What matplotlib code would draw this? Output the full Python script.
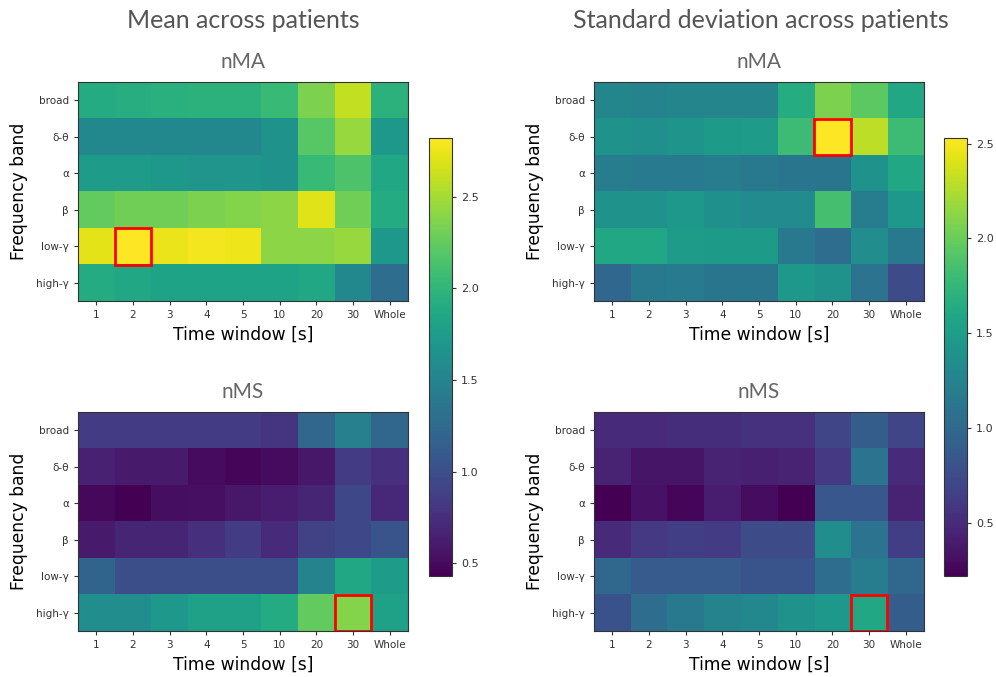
import numpy as np
import matplotlib
matplotlib.use('Agg')
import matplotlib.pyplot as plt
from matplotlib.patches import Rectangle

# axis categories
bands = ['broad', 'δ-θ', 'α', 'β', 'low-γ', 'high-γ']
windows = ['1', '2', '3', '4', '5', '10', '20', '30', 'Whole']

# mean across patients
mean_nma = [
    [1.90, 1.92, 1.95, 1.97, 1.97, 2.05, 2.35, 2.60, 1.97],
    [1.55, 1.55, 1.55, 1.55, 1.55, 1.65, 2.20, 2.45, 1.70],
    [1.75, 1.75, 1.70, 1.68, 1.68, 1.65, 2.05, 2.15, 1.85],
    [2.25, 2.30, 2.30, 2.35, 2.38, 2.40, 2.70, 2.30, 1.90],
    [2.72, 2.82, 2.75, 2.78, 2.76, 2.40, 2.40, 2.45, 1.70],
    [1.90, 1.85, 1.82, 1.82, 1.82, 1.82, 1.85, 1.55, 1.28],
]
mean_nms = [
    [0.85, 0.85, 0.85, 0.85, 0.85, 0.80, 1.22, 1.47, 1.22],
    [0.65, 0.60, 0.60, 0.50, 0.47, 0.50, 0.58, 0.85, 0.75],
    [0.48, 0.43, 0.52, 0.53, 0.58, 0.62, 0.68, 0.95, 0.70],
    [0.60, 0.68, 0.68, 0.75, 0.85, 0.72, 0.90, 0.95, 1.05],
    [1.20, 1.00, 1.00, 1.00, 1.00, 1.00, 1.50, 1.85, 1.75],
    [1.60, 1.60, 1.70, 1.80, 1.80, 1.90, 2.25, 2.38, 1.80],
]

# standard deviation across patients
std_nma = [
    [1.28, 1.25, 1.27, 1.27, 1.27, 1.65, 2.07, 1.95, 1.60],
    [1.40, 1.38, 1.42, 1.48, 1.50, 1.80, 2.53, 2.30, 1.80],
    [1.20, 1.18, 1.18, 1.20, 1.15, 1.12, 1.12, 1.40, 1.60],
    [1.40, 1.40, 1.45, 1.38, 1.33, 1.33, 1.85, 1.20, 1.45],
    [1.60, 1.60, 1.50, 1.48, 1.48, 1.15, 1.05, 1.35, 1.15],
    [1.00, 1.15, 1.18, 1.12, 1.12, 1.45, 1.40, 1.10, 0.75],
]
std_nms = [
    [0.50, 0.50, 0.52, 0.52, 0.55, 0.55, 0.70, 0.90, 0.70],
    [0.45, 0.35, 0.35, 0.45, 0.42, 0.45, 0.60, 1.10, 0.50],
    [0.22, 0.33, 0.25, 0.40, 0.30, 0.22, 0.85, 0.85, 0.45],
    [0.50, 0.60, 0.65, 0.62, 0.75, 0.75, 1.35, 1.10, 0.65],
    [1.00, 0.88, 0.88, 0.88, 0.82, 0.82, 1.05, 1.20, 1.00],
    [0.80, 1.05, 1.15, 1.25, 1.30, 1.40, 1.45, 1.60, 0.90],
]

W, H = 996, 677
fig = plt.figure(figsize=(W / 100, H / 100), dpi=100)
TITLE_FONT = ['Lato', 'DejaVu Sans']


def px_axes(x0, y0, x1, y1):
    # pixel box (top-left origin) -> figure axes
    return fig.add_axes([x0 / W, 1 - y1 / H, (x1 - x0) / W, (y1 - y0) / H])


def heatmap(ax, data, vmin, vmax, title):
    arr = np.array(data)
    im = ax.imshow(arr, cmap='viridis', vmin=vmin, vmax=vmax, aspect='auto')
    r, c = np.unravel_index(np.argmax(arr), arr.shape)
    ax.add_patch(Rectangle((c - 0.5, r - 0.5), 1, 1, fill=False,
                           edgecolor='red', lw=2))
    ax.set_xticks(range(len(windows)))
    ax.set_xticklabels(windows)
    ax.set_yticks(range(len(bands)))
    ax.set_yticklabels(bands)
    ax.tick_params(labelsize=7.5, colors='#333333', length=3)
    ax.set_xlabel('Time window [s]', fontsize=12.3, labelpad=4)
    ax.set_ylabel('Frequency band', fontsize=12.3, labelpad=6)
    for s in ax.spines.values():
        s.set_color('#333333')
    ax.set_title(title, fontsize=15, color='#666666', family=TITLE_FONT,
                 pad=10)
    return im


# left column: mean
all_mean = np.concatenate([np.ravel(mean_nma), np.ravel(mean_nms)])
vmin_l, vmax_l = all_mean.min(), all_mean.max()
ax1 = px_axes(78, 82, 408, 301)
im1 = heatmap(ax1, mean_nma, vmin_l, vmax_l, 'nMA')
ax2 = px_axes(78, 412, 408, 631)
heatmap(ax2, mean_nms, vmin_l, vmax_l, 'nMS')
cax1 = px_axes(429, 138, 452, 576)
cb1 = fig.colorbar(im1, cax=cax1)
cb1.ax.tick_params(labelsize=8, colors='#333333', length=3)
cb1.outline.set_edgecolor('#333333')

# right column: std
all_std = np.concatenate([np.ravel(std_nma), np.ravel(std_nms)])
vmin_r, vmax_r = all_std.min(), all_std.max()
ax3 = px_axes(594, 82, 924, 301)
im3 = heatmap(ax3, std_nma, vmin_r, vmax_r, 'nMA')
ax4 = px_axes(594, 412, 924, 631)
heatmap(ax4, std_nms, vmin_r, vmax_r, 'nMS')
cax2 = px_axes(944, 138, 967, 576)
cb2 = fig.colorbar(im3, cax=cax2)
cb2.ax.tick_params(labelsize=8, colors='#333333', length=3)
cb2.outline.set_edgecolor('#333333')

fig.text(243 / W, 1 - 21 / H, 'Mean across patients', ha='center', va='center',
         fontsize=18, color='#555555', family=TITLE_FONT)
fig.text(761 / W, 1 - 21 / H, 'Standard deviation across patients', ha='center',
         va='center', fontsize=18, color='#555555', family=TITLE_FONT)

fig.savefig('out.png', dpi=100)
